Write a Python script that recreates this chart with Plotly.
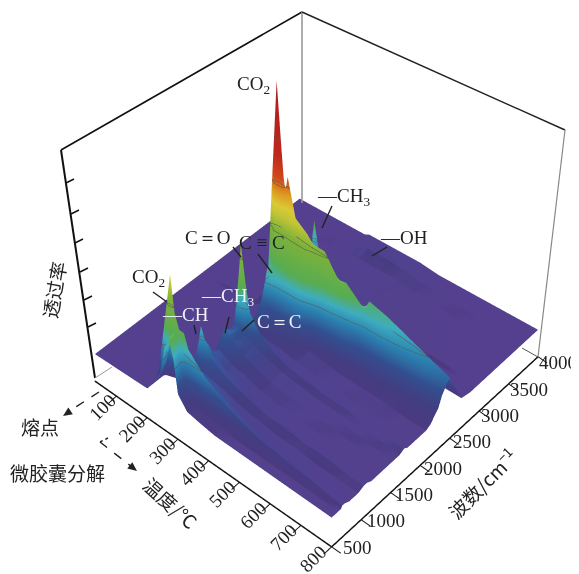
import math
import plotly.graph_objects as go

TEMP_RANGE = [30, 800]
WAVE_RANGE = [500, 4000]
Z_RANGE = [0, 1.3]
temps = [30, 200, 240, 255, 270, 285, 300, 330, 370, 420, 480, 540, 600, 680, 740, 800]
waves = [500, 620, 660, 680, 720, 800, 950, 1050, 1100, 1170, 1300, 1450, 1550, 1650, 1730, 1790, 1900,
         2100, 2180, 2240, 2310, 2340, 2370, 2420, 2500, 2600, 2700, 2850, 2940, 2980, 3050, 3300, 3600, 3740, 4000]
baseline = 12
heights = [
 [0,0,0,0,0,0,0,0,0,0,0,0,0,0,0,0,0,0,0,0,0,0,0,0,0,0,0,0,0,0,0,0,0,0,0],
 [1,1,1,1,1,1,1,1,1,1,1,1,1,1,1,1,1,1,1,1,1,2,1,1,1,1,0,0,1,1,0,0,0,1,0],
 [10,14,38,52,14,3,1,2,2,1,1,2,2,2,4,2,1,2,3,3,5,10,7,2,1,1,1,1,3,4,1,0,1,1,0],
 [24,27,30,36,18,6,3,8,6,3,2,5,5,5,15,6,3,6,12,10,24,60,22,8,3,2,2,3,8,10,3,1,1,2,1],
 [29,30,26,30,20,12,7,24,16,9,8,14,12,13,46,14,6,14,26,26,50,106,40,16,6,5,4,8,18,30,7,2,2,3,1],
 [22,18,22,30,20,12,8,18,16,11,9,13,12,12,30,12,6,12,24,26,46,78,50,20,6,5,4,7,14,18,6,2,2,3,1],
 [8,8,14,24,18,12,8,14,12,10,8,11,10,10,18,9,5,10,22,28,44,52,65,24,6,5,4,6,10,12,5,2,2,4,1],
 [3,4,10,20,16,12,7,10,9,7,6,8,8,8,12,7,4,9,20,30,44,50,46,18,5,4,3,4,8,9,3,2,2,4,1],
 [2,3,8,15,13,10,6,8,7,6,5,6,6,6,8,5,4,8,18,28,42,46,42,14,4,3,2,3,5,6,2,2,2,4,1],
 [1,2,6,11,10,7,4,6,5,4,3,4,4,4,5,4,3,4,8,16,28,38,42,30,6,3,2,2,3,3,2,1,2,3,1],
 [1,1,4,8,7,5,3,4,4,3,2,3,3,3,4,3,2,3,6,12,20,25,30,32,6,2,1,1,2,2,1,1,1,2,0],
 [1,1,3,6,5,4,2,4,3,2,2,2,2,2,3,2,2,2,4,8,13,17,20,25,27,3,1,1,1,1,1,1,1,1,0],
 [1,1,2,5,4,3,2,3,2,2,1,2,2,2,3,2,1,2,4,7,11,15,18,22,25,3,1,1,1,1,1,1,0,1,0],
 [1,1,2,4,3,2,1,3,2,1,1,1,2,2,2,2,1,2,3,6,9,12,15,18,21,6,1,0,0,1,1,0,0,0,0],
 [1,1,2,3,2,2,1,2,2,1,1,1,1,2,2,1,1,1,3,5,8,10,13,16,18,9,1,0,0,0,0,0,0,0,0],
 [1,1,1,2,2,1,1,2,2,1,1,1,1,1,2,1,1,1,2,4,6,8,10,12,15,8,1,0,0,0,0,0,0,0,0],
]
temp_ticks = [100, 200, 300, 400, 500, 600, 700, 800]
wave_ticks = [500, 1000, 1500, 2000, 2500, 3000, 3500, 4000]

colorscale = [[0, "#54408e"], [0.05, "#4b4490"], [0.11, "#38589f"], [0.17, "#2f8fc4"], [0.22, "#45c0d4"],
              [0.27, "#62bf5a"], [0.4, "#8cc63f"], [0.46, "#d4d93c"], [0.5, "#f3e03c"], [0.56, "#f5a623"],
              [0.62, "#e8501f"], [0.72, "#d42a1f"], [1, "#c4201f"]]

# The reference has a mild perspective that orthographic projection lacks: the far corner of the
# sheet is pulled in so its outline still lands where the reference's does.
T0, T1 = TEMP_RANGE
W0, W1 = WAVE_RANGE
gx, gy, gz, gc = [], [], [], []
for j, w in enumerate(waves):
    fw = (w - W0) / (W1 - W0)
    rx, ry, rz, rc = [], [], [], []
    for i, t in enumerate(temps):
        ft = (t - T0) / (T1 - T0)
        rx.append(t + 35 * fw * (1 - ft))
        ry.append(W0 + (w - W0) * (1 - 0.06 * (1 - ft)))
        rz.append((baseline + heights[i][j] - 7 * fw * (1 - ft)) / 100)
        rc.append(heights[i][j] / 100)
    gx.append(rx); gy.append(ry); gz.append(rz); gc.append(rc)

fig = go.Figure()
fig.add_trace(go.Surface(x=gx, y=gy, z=gz, surfacecolor=gc, colorscale=colorscale, cmin=0, cmax=1.03,
                         showscale=False, hoverinfo="skip",
                         lighting=dict(ambient=0.9, diffuse=0.25, specular=0, roughness=1, fresnel=0),
                         contours=dict(z=dict(show=True, start=0.3, end=1.1, size=0.2, color="#555555", width=1))))

FONT = "Liberation Serif"
CJK = "Noto Sans CJK SC"

axis = dict(showbackground=False, showgrid=False, zeroline=False, showline=True, linecolor="#111", linewidth=3,
            ticks="inside", tickcolor="#111", ticklen=12, tickwidth=2, showticklabels=False, title=dict(text=""),
            showspikes=False)
hidden = dict(visible=False, showbackground=False, showgrid=False, zeroline=False, showline=False, ticks="",
              showticklabels=False, title=dict(text=""), showspikes=False)
PAGE = 8  # the page keeps the browser's body margin
W, H = 579, 574 - PAGE
fig.update_layout(
    width=W, height=H, margin=dict(l=0, r=0, t=0, b=0), paper_bgcolor="white", showlegend=False,
    scene=dict(domain=dict(x=[0.0789, 0.9862], y=[0, 1]),
               xaxis=dict(axis, range=TEMP_RANGE, tickvals=temp_ticks),
               yaxis=dict(axis, range=WAVE_RANGE, tickvals=wave_ticks),
               zaxis=dict(hidden, range=Z_RANGE),
               aspectmode="manual", aspectratio=dict(x=1.11, y=1.11, z=1.73),
               camera=dict(eye=dict(x=0.709, y=-0.813, z=1.0515), center=dict(x=0, y=0, z=-0.403),
                           projection=dict(type="orthographic"))))

def px(x):
    return (x - PAGE) / W
def py(y):
    return 1 - (y - PAGE) / H
def label(x, y, text, size=19, angle=0, family=FONT, color="#222"):
    fig.add_annotation(x=px(x), y=py(y), xref="paper", yref="paper", text=text, showarrow=False, textangle=angle,
                       xanchor="center", yanchor="middle", font=dict(family=family, size=size, color=color))
def seg(x0, y0, x1, y1, color="#222", width=1.4, dash="solid"):
    fig.add_shape(type="line", xref="paper", yref="paper", x0=px(x0), y0=py(y0), x1=px(x1), y1=py(y1),
                  line=dict(color=color, width=width, dash=dash))
def head(x0, y0, x1, y1, size=10):
    a = math.atan2(y1 - y0, x1 - x0)
    pts = [(x1, y1), (x1 - size * math.cos(a - 0.42), y1 - size * math.sin(a - 0.42)),
           (x1 - size * math.cos(a + 0.42), y1 - size * math.sin(a + 0.42))]
    path = "M" + " L".join(f"{px(p[0]):.4f},{py(p[1]):.4f}" for p in pts) + " Z"
    fig.add_shape(type="path", xref="paper", yref="paper", path=path, fillcolor="#222", line=dict(width=0))

# frame of the box
seg(61, 150, 95, 378, "#111", 2)
seg(61, 150, 302, 12, "#111", 1.6)
seg(302, 12, 302, 203, "#999", 1.6)
seg(302, 12, 565, 130, "#222", 1.4)
seg(565, 130, 538, 357, "#888", 1.2)
seg(95, 378, 112, 367, "#999", 1)
seg(538, 357, 522, 348, "#555", 1)
for tx, ty in [(66, 183), (71, 214), (75, 243), (80, 272), (84, 300), (88, 327)]:
    seg(tx, ty, tx + 8, ty - 4, "#111", 1.4)

for i, t in enumerate(temp_ticks):
    label(102 + 30.2 * i, 407 + 21.7 * i, str(t), 19, -45)
for i, w in enumerate(wave_ticks):
    label(357 + 28.7 * i, 547 - 26.3 * i, str(w), 19)

label(253, 85, "CO<sub>2</sub>")
label(343, 197, "—CH<sub>3</sub>")
label(207, 237, "C＝O")
label(262, 242, "C ≡ C")
label(148, 278, "CO<sub>2</sub>")
label(185, 314, "—CH", color="#eef0f6")
label(227, 297, "—CH<sub>3</sub>", color="#eef0f6")
label(279, 321, "C＝C", color="#eef0f6")
label(404, 237, "—OH")
for s in [(153, 292, 167, 302), (194, 325, 196, 334), (229, 317, 225, 333), (254, 320, 242, 331), (233, 247, 241, 257),
          (258, 254, 272, 273), (332, 206, 322, 228), (387, 247, 372, 256)]:
    seg(*s)

label(53, 290, "透过率", 19, -80, CJK)
label(171, 502, "温度/℃", 19, 42, CJK)
label(482, 483, "波数/cm<sup>−1</sup>", 19, -45, CJK)
label(40, 426, "熔点", 19, 0, CJK)
label(57, 472, "微胶囊分解", 19, 0, CJK)
seg(99, 392, 68, 412, dash="dash")
head(99, 392, 63, 416)
seg(108, 438, 100, 442, dash="dot")
seg(100, 442, 132, 467, dash="dash")
head(100, 442, 137, 471)

fig.write_html("out.html")
